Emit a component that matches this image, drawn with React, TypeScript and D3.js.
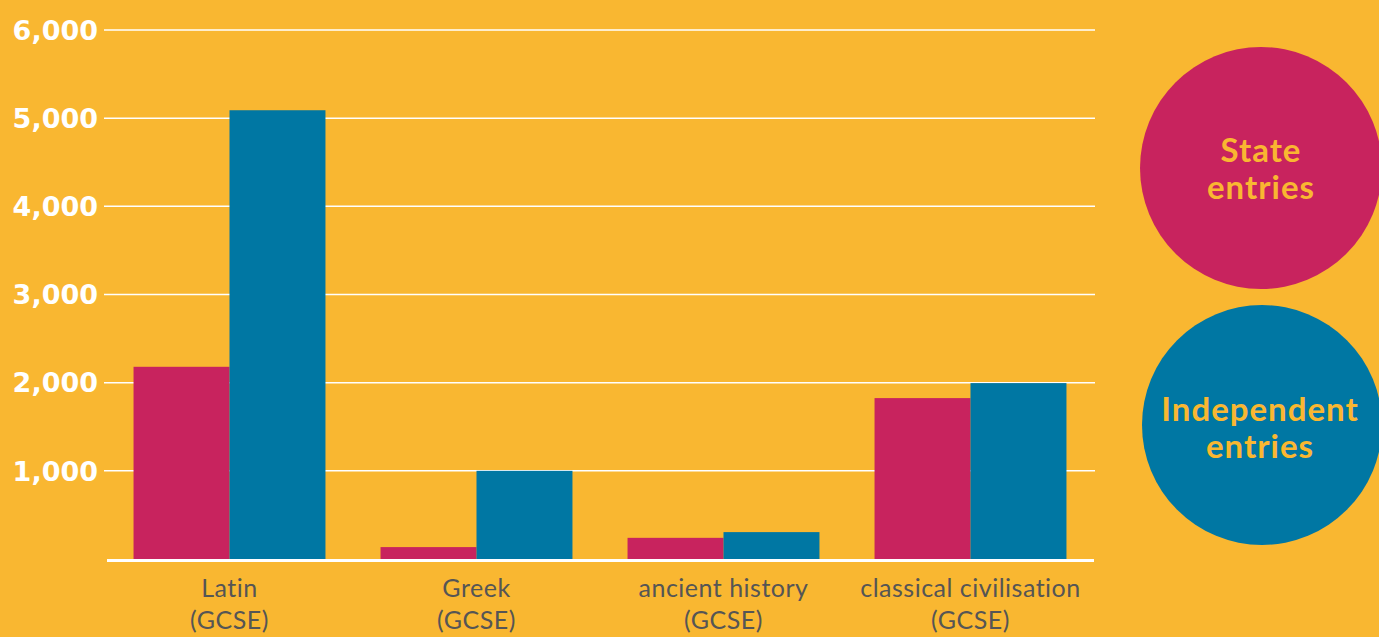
import React from 'react';
import * as d3 from 'd3';

const subjects: string[] = ['Latin', 'Greek', 'ancient history', 'classical civilisation'];
const qualification: string = '(GCSE)';
const stateEntries: number[] = [2180, 135, 240, 1825];
const independentEntries: number[] = [5090, 1000, 305, 1995];
const yTicks: number[] = [1000, 2000, 3000, 4000, 5000, 6000];
const seriesNames: string[] = ['State', 'Independent'];

const width = 1379;
const height = 637;
const bg = '#F9B731';
const colors = ['#C8235E', '#0077A3'];

function App() {
    const x = d3.scaleBand<string>()
        .domain(subjects)
        .range([106, 1094])
        .paddingInner(0.223)
        .paddingOuter(0.1115);

    const xInner = d3.scaleBand<string>()
        .domain(seriesNames)
        .range([0, x.bandwidth()]);

    const y = d3.scaleLinear()
        .domain([0, 6000])
        .range([559, 30]);

    const fmt = d3.format(',');
    const series = [stateEntries, independentEntries];

    return (
        <svg width={width} height={height} style={{ position: 'absolute', left: 0, top: 0 }}>
            <rect width={width} height={height} fill={bg} />

            {/* grid + y labels */}
            <g>
                {yTicks.map(t => (
                    <g key={t}>
                        <line x1={104} x2={1095} y1={y(t)} y2={y(t)} stroke="white" strokeWidth={1.5} />
                        <text x={98} y={y(t)} dy="0.36em" textAnchor="end" fill="white"
                            fontFamily="DejaVu Sans" fontWeight="bold" fontSize={27}>{fmt(t)}</text>
                    </g>
                ))}
            </g>

            {/* bars */}
            {subjects.map((s, i) => (
                <g key={s} transform={`translate(${x(s)},0)`}>
                    {series.map((vals, j) => (
                        <rect key={j}
                            x={xInner(seriesNames[j])}
                            y={y(vals[i])}
                            width={xInner.bandwidth()}
                            height={y(0) - y(vals[i])}
                            fill={colors[j]} />
                    ))}
                </g>
            ))}

            <line x1={107} x2={1094} y1={y(0) + 1.5} y2={y(0) + 1.5} stroke="white" strokeWidth={3} />

            {/* x labels */}
            {subjects.map(s => (
                <text key={s} x={(x(s) as number) + x.bandwidth() / 2} textAnchor="middle"
                    fill="#555" fontFamily="Lato" fontSize={25} letterSpacing={0.5}>
                    <tspan x={(x(s) as number) + x.bandwidth() / 2} y={597}>{s}</tspan>
                    <tspan x={(x(s) as number) + x.bandwidth() / 2} y={629}>{qualification}</tspan>
                </text>
            ))}

            {/* legend */}
            <g fontFamily="Lato" fontWeight="bold" fontSize={33} letterSpacing={1} fill={bg} textAnchor="middle">
                <circle cx={1261} cy={168} r={121} fill={colors[0]} />
                <text x={1261} y={162}>{seriesNames[0]}</text>
                <text x={1261} y={199}>entries</text>
                <circle cx={1262} cy={425} r={120} fill={colors[1]} />
                <text x={1260} y={421}>{seriesNames[1]}</text>
                <text x={1260} y={458}>entries</text>
            </g>
        </svg>
    );
}

export default App;
